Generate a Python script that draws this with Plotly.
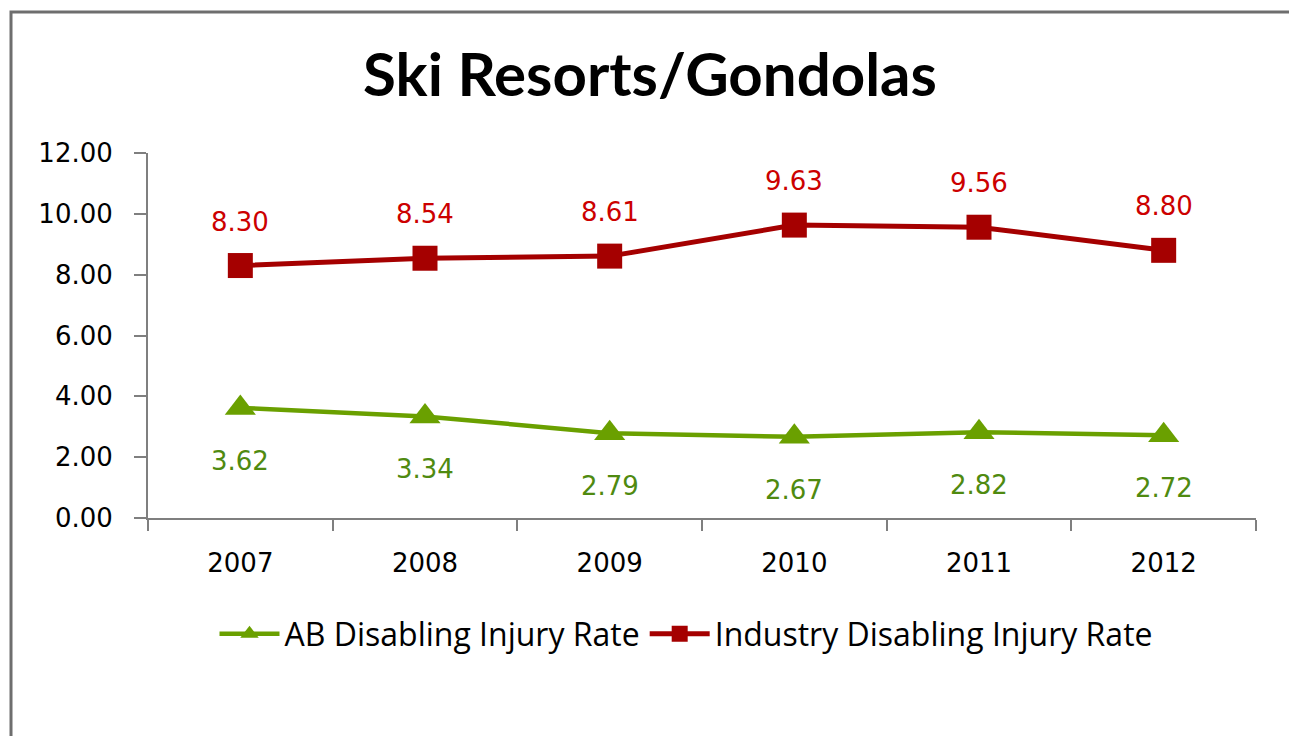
import plotly.graph_objects as go

years = ["2007", "2008", "2009", "2010", "2011", "2012"]
ab_rate = [3.62, 3.34, 2.79, 2.67, 2.82, 2.72]
industry_rate = [8.30, 8.54, 8.61, 9.63, 9.56, 8.80]
y_ticks = [0, 2, 4, 6, 8, 10, 12]

GREEN = "#6AA000"
GREEN_TXT = "#4F8A10"
RED = "#A50000"
RED_TXT = "#CC0000"
NUM_FONT = "DejaVu Sans"
TXT_FONT = "Open Sans, Roboto, sans-serif"

fig = go.Figure()
fig.add_trace(go.Scatter(
    x=years, y=ab_rate, mode="lines+markers", name="AB Disabling Injury Rate",
    line=dict(color=GREEN, width=4.5),
    marker=dict(symbol="triangle-up", size=27, color=GREEN),
))
fig.add_trace(go.Scatter(
    x=years, y=industry_rate, mode="lines+markers", name="Industry Disabling Injury Rate",
    line=dict(color=RED, width=5),
    marker=dict(symbol="square", size=25, color=RED),
))

annotations = []
for i, v in enumerate(industry_rate):
    annotations.append(dict(x=i, y=v, text=f"{v:.2f}", showarrow=False, yshift=44,
                            font=dict(family=NUM_FONT, size=26, color=RED_TXT)))
for i, v in enumerate(ab_rate):
    annotations.append(dict(x=i, y=v, text=f"{v:.2f}", showarrow=False, yshift=-53,
                            font=dict(family=NUM_FONT, size=26, color=GREEN_TXT)))

# page pixels (reference) -> figure pixels: the page body adds an 8px offset
OFF = 8
W, H = 1297 - OFF, 736 - OFF
L, T = 148 - OFF, 153 - OFF
pw, ph = 1108, 365
R, B = W - L - pw, H - T - ph
def px_x(p):
    return (p - OFF - L) / pw
def px_y(p):
    return (T + ph - (p - OFF)) / ph

fig.update_layout(
    width=W, height=H,
    margin=dict(l=L, r=R, t=T, b=B),
    paper_bgcolor="white", plot_bgcolor="white",
    title=dict(text="<b>Ski Resorts/Gondolas</b>", x=(650 - OFF) / W, y=1 - (75 - OFF) / H,
               xanchor="center", yanchor="middle",
               font=dict(family="Lato, Open Sans, sans-serif", size=60, color="black")),
    showlegend=True,
    legend=dict(orientation="h", x=px_x(686), y=px_y(634), xanchor="center", yanchor="middle",
                font=dict(family=TXT_FONT, size=32, color="black"),
                itemwidth=60, bgcolor="rgba(0,0,0,0)"),
    annotations=annotations,
    shapes=[dict(type="rect", xref="paper", yref="paper",
                 x0=px_x(11), x1=px_x(1295), y0=px_y(760), y1=px_y(12),
                 line=dict(color="#6E6E6E", width=3), layer="below")],
    xaxis=dict(type="category", range=[-0.5, len(years) - 0.5], showgrid=False, showline=True,
               linecolor="#7F7F7F", linewidth=2,
               ticks="outside", tickson="boundaries", ticklen=11, tickcolor="#7F7F7F", tickwidth=2,
               tickfont=dict(family=NUM_FONT, size=26, color="black"), ticklabelstandoff=21,
               zeroline=False),
    yaxis=dict(range=[0, 12], tickvals=y_ticks, tickformat=".2f", showgrid=False, showline=True,
               linecolor="#7F7F7F", linewidth=2, ticks="outside", ticklen=12, tickcolor="#7F7F7F",
               tickwidth=2, tickfont=dict(family=NUM_FONT, size=26, color="black"),
               ticklabelstandoff=16, zeroline=False),
)

fig.write_html("out.html")
